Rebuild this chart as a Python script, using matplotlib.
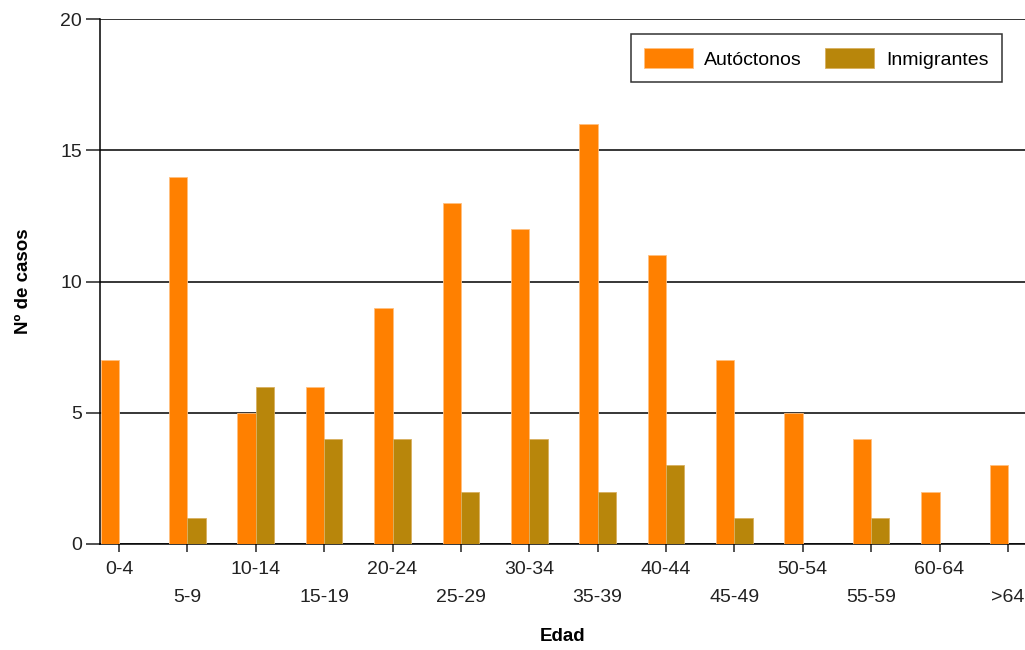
import matplotlib
matplotlib.use('Agg')
import matplotlib.pyplot as plt
import numpy as np

plt.rcParams['font.family'] = ['Liberation Sans', 'DejaVu Sans']

edades = ['0-4', '5-9', '10-14', '15-19', '20-24', '25-29', '30-34',
          '35-39', '40-44', '45-49', '50-54', '55-59', '60-64', '>64']
autoctonos = [7, 14, 5, 6, 9, 13, 12, 16, 11, 7, 5, 4, 2, 3]
inmigrantes = [0, 1, 6, 4, 4, 2, 4, 2, 3, 1, 0, 1, 0, 0]

ORANGE = '#FF8000'
GOLD = '#B8860B'

fig = plt.figure(figsize=(10.25, 6.5), dpi=100)
ax = fig.add_axes([100/1025, 106/650, 925/1025, 525/650])

x = np.arange(len(edades))
w = 0.268
ax.bar(x - w/2, autoctonos, w, color=ORANGE, edgecolor='#FFC080', linewidth=0.6,
       label='Autóctonos', zorder=3)
ax.bar(x + w/2, inmigrantes, w, color=GOLD, edgecolor='#D8B060', linewidth=0.6,
       label='Inmigrantes', zorder=3)

ax.set_xlim(-0.278, 13.25)
ax.set_ylim(0, 20)
ax.set_yticks([0, 5, 10, 15, 20])
ax.yaxis.grid(True, color='black', linewidth=1.1, zorder=0)
ax.set_axisbelow(True)

for s in ['top', 'right']:
    ax.spines[s].set_visible(False)
ax.spines['left'].set_linewidth(1.1)
ax.spines['bottom'].set_linewidth(1.1)

ax.tick_params(axis='y', length=10, width=1.1, labelsize=14, pad=3, colors='#222222')
ax.tick_params(axis='x', length=6, width=1.1, labelsize=14, pad=6, colors='#222222')
ax.set_xticks(x)
ax.set_xticklabels(edades)
for i, t in enumerate(ax.xaxis.get_major_ticks()):
    if i % 2 == 1:
        t.set_pad(6 + 28 * 0.72)

ax.set_ylabel('Nº de casos', fontsize=13.5, fontweight='bold', labelpad=20)
ax.set_xlabel('Edad', fontsize=13.5, fontweight='bold', labelpad=16)

leg = ax.legend(loc='upper right', bbox_to_anchor=(0.975, 0.971), ncol=2,
                frameon=True, fancybox=False, edgecolor='black', fontsize=14,
                handlelength=2.5, handleheight=1.25, columnspacing=1.2,
                borderpad=0.7, handletextpad=0.6, borderaxespad=0)
leg.get_frame().set_linewidth(1.1)

plt.savefig('out.png', dpi=100)
plt.close()
